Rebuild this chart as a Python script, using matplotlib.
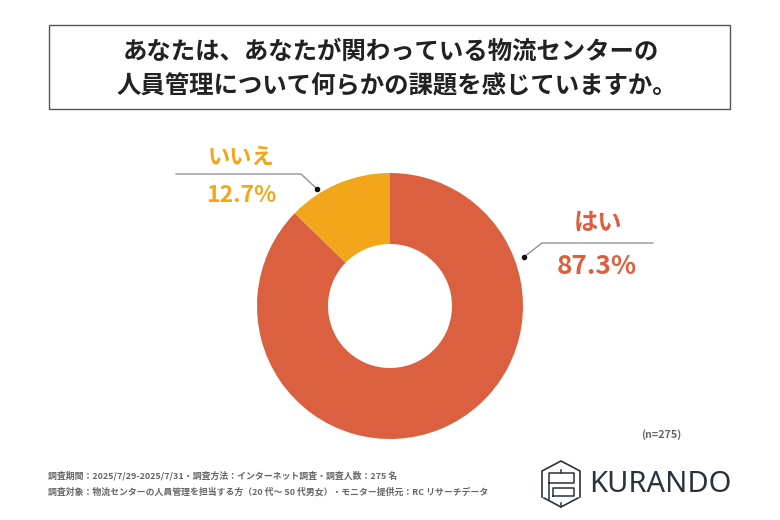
import matplotlib
matplotlib.use('Agg')
import matplotlib.pyplot as plt
from matplotlib.patches import Rectangle

plt.rcParams['font.family'] = ['Noto Sans CJK JP', 'DejaVu Sans']

labels = ['はい', 'いいえ']
values = [87.3, 12.7]
pct_labels = ['87.3%', '12.7%']
colors = ['#DB6040', '#F2A71B']
title_1 = 'あなたは、あなたが関わっている物流センターの'
title_2 = '人員管理について何らかの課題を感じていますか。'
note_1 = '調査期間：2025/7/29-2025/7/31・調査方法：インターネット調査・調査人数：275 名'
note_2 = '調査対象：物流センターの人員管理を担当する方（20 代～ 50 代男女）・モニター提供元：RC リサーチデータ'

fig = plt.figure(figsize=(7.8, 5.2), dpi=100)
ax = fig.add_axes([0, 0, 1, 1])

# donut, yes slice starts at 12 o'clock going clockwise
ax.pie(values, colors=colors, startangle=90, counterclock=False,
       center=(390, 214), radius=133, frame=False,
       wedgeprops=dict(width=71, linewidth=0))
ax.set_xlim(0, 780)
ax.set_ylim(0, 520)
ax.set_aspect('auto')
ax.axis('off')

# title box
ax.add_patch(Rectangle((49, 411), 681, 84, fill=False, edgecolor='#555555', linewidth=1))
ax.text(391, 468, title_1, ha='center', va='center', fontsize=17.6, fontweight='bold', color='#222222')
ax.text(397, 435, title_2, ha='center', va='center', fontsize=17.6, fontweight='bold', color='#222222')

# callouts
ax.plot([176, 301, 317], [346, 346, 331], color='#888888', lw=0.9)
ax.plot([317], [331], 'o', color='#111111', ms=3)
ax.plot([653, 542, 524], [277, 277, 263], color='#888888', lw=0.9)
ax.plot([524], [263], 'o', color='#111111', ms=3)

ax.text(241, 363, labels[1], ha='center', va='center', fontsize=16, fontweight='bold', color=colors[1])
ax.text(241, 324, pct_labels[1], ha='center', va='center', fontsize=16.5, fontweight='bold', color=colors[1])
ax.text(598, 297, labels[0], ha='center', va='center', fontsize=17.5, fontweight='bold', color=colors[0])
ax.text(597, 254, pct_labels[0], ha='center', va='center', fontsize=18.8, fontweight='bold', color=colors[0])

ax.text(661, 85, '(n=275)', ha='center', va='center', fontsize=7.8, fontweight='bold', color='#666666')

# footer notes
ax.text(48, 44, note_1, ha='left', va='center', fontsize=6.43, fontweight='bold', color='#666666')
ax.text(48, 28, note_2, ha='left', va='center', fontsize=6.4, fontweight='bold', color='#666666')

# logo
logo_c = '#2B323A'
ax.plot([542, 542, 561, 580, 580], [23, 49, 59, 49, 23], color=logo_c, lw=1.2)
ax.plot([544, 561, 578], [22, 13, 22], color=logo_c, lw=1.2)
ax.plot([549, 549, 574, 574, 549], [20, 47, 47, 37, 37], color=logo_c, lw=1.1)
ax.plot([553, 553, 574, 574, 553], [24, 32, 32, 24, 24], color=logo_c, lw=1.1)
ax.plot([561, 561], [47, 50], color=logo_c, lw=1.1)
ax.plot([561, 561], [13, 17], color=logo_c, lw=1.1)
ax.text(589, 36, 'KURANDO', ha='left', va='center', fontsize=21, color=logo_c,
        family=['Noto Sans', 'DejaVu Sans'], fontweight='semibold')

fig.savefig('out.png', dpi=100, facecolor='white')
